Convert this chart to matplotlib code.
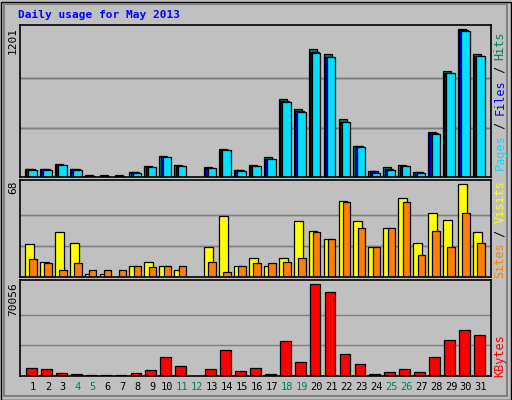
import matplotlib
matplotlib.use('Agg')
import matplotlib.pyplot as plt
from matplotlib.patches import Rectangle

days = list(range(1, 32))
hits = [68, 68, 108, 68, 14, 19, 14, 43, 87, 168, 95, 0, 79, 225, 60, 100,
        160, 629, 548, 1035, 995, 474, 255, 51, 79, 100, 43, 369, 857, 1201, 998]
files = [62, 62, 100, 62, 10, 12, 10, 38, 84, 165, 88, 0, 74, 222, 55, 92,
         150, 615, 532, 1015, 975, 450, 248, 45, 62, 92, 38, 355, 845, 1190, 985]
pages = [60, 60, 98, 60, 0, 0, 0, 35, 81, 165, 86, 0, 72, 222, 51, 88,
         145, 612, 530, 1010, 970, 445, 245, 35, 60, 90, 35, 352, 842, 1187, 980]
visits = [24, 11, 33, 25, 2, 2, 0, 8, 11, 8, 5, 0, 22, 45, 8, 14,
          8, 14, 41, 34, 28, 56, 41, 22, 36, 58, 25, 47, 42, 68, 33]
sites = [13, 10, 5, 10, 5, 5, 5, 8, 7, 8, 8, 0, 11, 4, 8, 10,
         10, 11, 14, 33, 28, 55, 36, 22, 36, 55, 16, 34, 22, 47, 25]
kbytes = [6393, 5600, 2557, 1790, 1000, 1000, 1000, 2557, 4858, 14830, 7927, 0,
          5600, 20200, 4091, 6393, 1790, 27100, 11000, 70056, 63925, 17130, 9460,
          1790, 3324, 5600, 3324, 14830, 27870, 34775, 31700]
weekend = [4, 5, 11, 12, 18, 19, 25, 26]

BG = '#C0C0C0'
MONO = 'DejaVu Sans Mono'

fig = plt.figure(figsize=(5.12, 4), dpi=100, facecolor=BG)
W, H = 512, 400


def panel(top, bottom, ymax):
    ax = fig.add_axes([20 / W, (H - bottom) / H, 470.7 / W, (bottom - top) / H])
    ax.set_facecolor(BG)
    ax.set_xlim(0.13, 31.65)
    ax.set_ylim(0, ymax)
    ax.set_xticks([])
    ax.set_yticks([])
    for s in ax.spines.values():
        s.set_linewidth(1.2)
    return ax


def bars(ax, vals, x0, x1, color, top):
    for d, v in zip(days, vals):
        if v > 0:
            ax.add_patch(Rectangle((d + x0, 0), x1 - x0, v, facecolor=color,
                                   edgecolor='black', linewidth=0.9))
    for g in (top / 3, 2 * top / 3):
        ax.axhline(g, color='#808080', lw=1, zorder=0)


# top panel: hits / files / pages
ax1 = panel(24.7, 177, 1236)
bars(ax1, hits, -0.54, 0.0, '#00805C', 1201)
bars(ax1, files, -0.45, 0.12, '#0000FF', 1201)
bars(ax1, pages, -0.31, 0.25, '#00E0FF', 1201)

# middle panel: visits / sites
ax2 = panel(180, 277, 71.2)
bars(ax2, visits, -0.54, 0.05, '#FFFF00', 68)
bars(ax2, sites, -0.25, 0.25, '#FF8000', 68)

# bottom panel: kbytes
ax3 = panel(280, 376, 73350)
bars(ax3, kbytes, -0.47, 0.25, '#FF0000', 70056)

for d in days:
    ax3.text(d, -0.06, str(d), transform=ax3.get_xaxis_transform(),
             ha='center', va='top', fontsize=7.5, family=MONO,
             color='#00805C' if d in weekend else 'black')

fig.text(18 / W, 1 - 15 / H, 'Daily usage for May 2013', color='#0000FF',
         fontsize=8, weight='bold', family=MONO, va='center')

for y, lab in [(27, '1201'), (181, '68'), (282, '70056')]:
    fig.text(13 / W, 1 - y / H, lab, rotation=90, ha='center', va='top',
             fontsize=8, family=MONO)


def side_label(y_bottom, parts):
    y = y_bottom
    for txt, col in parts:
        fig.text(500 / W, 1 - y / H, txt, rotation=90, ha='center',
                 va='bottom', fontsize=8.5, family=MONO, color=col)
        y -= len(txt) * 6.9


side_label(170, [('Pages', '#00E0FF'), (' / ', '#000000'), ('Files', '#0000FF'),
                 (' / ', '#000000'), ('Hits', '#00805C')])
side_label(278, [('Sites', '#FF8000'), (' / ', '#000000'), ('Visits', '#FFFF00')])
side_label(377, [('KBytes', '#FF0000')])

# bevelled outer frame
fig.add_artist(Rectangle((0.5 / W, 0.5 / H), 510 / W, 398 / H, transform=fig.transFigure,
                         fill=False, edgecolor='black', lw=1))
fig.add_artist(Rectangle((4 / W, 4 / H), 503 / W, 392 / H, transform=fig.transFigure,
                         fill=False, edgecolor='#808080', lw=1.5))

fig.savefig('out.png', dpi=100, facecolor=BG)
